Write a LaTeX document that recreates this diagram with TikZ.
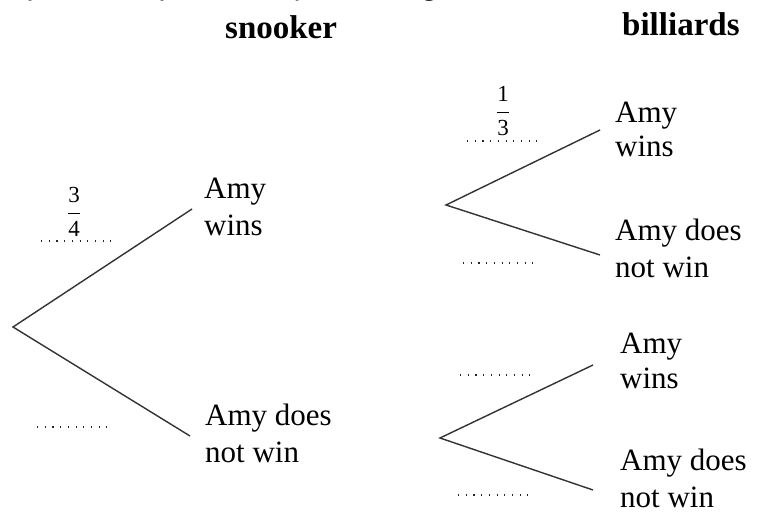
\documentclass[tikz,border=0pt]{standalone}
\usepackage{fontspec}
\setmainfont{Liberation Serif}
\newfontfamily\topfont{Carlito}
\begin{document}
\begin{tikzpicture}[x=1pt,y=-1pt,
  branch/.style={draw=black!80, line width=1.4pt},
  blank/.style={draw=black!85, line width=1.1pt, dash pattern=on 1.1pt off 6.6pt},
  lbl/.style={anchor=base west, inner sep=0pt, font=\fontsize{31}{37}\selectfont},
  head/.style={anchor=base west, inner sep=0pt, font=\fontsize{33}{38}\selectfont\bfseries},
  frac/.style={anchor=center, inner sep=0pt, font=\fontsize{23}{27}\selectfont}]
\useasboundingbox (0,0) rectangle (757,516);
\fill[white] (0,0) rectangle (757,516);
\begin{scope}
  \clip (0,0) rectangle (757,516);
  \node[anchor=base west, inner sep=0pt, font=\fontsize{34}{40}\topfont] (top) at (-37,-4.8) {Complete the probability tree diagram};
\end{scope}
% headers
\node[head] (snk) at (225,39) {snooker};
\node[head] (bil) at (622,36) {billiards};
% tree points
\coordinate (r1) at (13,327);
\coordinate (e1) at (192,209);
\coordinate (e2) at (190,436);
\coordinate (r2) at (446,205);
\coordinate (e3) at (600,130);
\coordinate (e4) at (600,255);
\coordinate (r3) at (440,438);
\coordinate (e5) at (593,365);
\coordinate (e6) at (593,490);
\draw[branch] (e1) -- (r1) -- (e2);
\draw[branch] (e3) -- (r2) -- (e4);
\draw[branch] (e5) -- (r3) -- (e6);
% labels
\node[lbl] (l1) at (204,198) {\begin{tabular}[t]{@{}l@{}}Amy\\wins\end{tabular}};
\node[lbl] (l2) at (205,425) {\begin{tabular}[t]{@{}l@{}}Amy does\\not win\end{tabular}};
\node[lbl] (l3) at (615,123) {\begin{tabular}[t]{@{}l@{}}Amy\\[-3pt]wins\end{tabular}};
\node[lbl] (l4) at (615,240) {\begin{tabular}[t]{@{}l@{}}Amy does\\not win\end{tabular}};
\node[lbl] (l5) at (620,353) {\begin{tabular}[t]{@{}l@{}}Amy\\[-2pt]wins\end{tabular}};
\node[lbl] (l6) at (620,470) {\begin{tabular}[t]{@{}l@{}}Amy does\\not win\end{tabular}};
% blanks
\coordinate (d1a) at (41,241);  \coordinate (d1b) at (111,241);
\coordinate (d2a) at (37,427);  \coordinate (d2b) at (110,427);
\coordinate (d3a) at (467,141); \coordinate (d3b) at (538,141);
\coordinate (d4a) at (463,263); \coordinate (d4b) at (533,263);
\coordinate (d5a) at (460,375); \coordinate (d5b) at (530,375);
\coordinate (d6a) at (458,495); \coordinate (d6b) at (528,495);
\draw[blank] (d1a) -- (d1b);
\draw[blank] (d2a) -- (d2b);
\draw[blank] (d3a) -- (d3b);
\draw[blank] (d4a) -- (d4b);
\draw[blank] (d5a) -- (d5b);
\draw[blank] (d6a) -- (d6b);
% fractions
\node[frac] (f1) at (74,212) {$\displaystyle\frac{\mbox{3}}{\mbox{4}}$};
\node[frac] (f2) at (503,111) {$\displaystyle\frac{\mbox{1}}{\mbox{3}}$};
\end{tikzpicture}
\end{document}
